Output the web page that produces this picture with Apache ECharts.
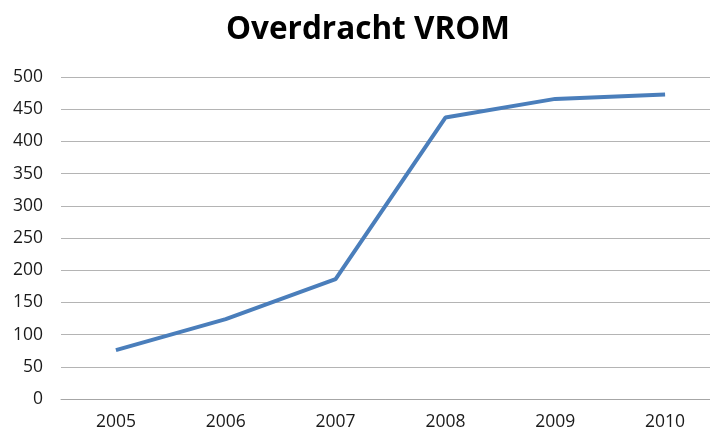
<!DOCTYPE html>
<html>
<head>
<meta charset="utf-8">
<script src="https://cdn.jsdelivr.net/npm/echarts@6/dist/echarts.min.js"></script>
<style>
  html, body { margin: 0; padding: 0; background: #fff; }
  #main { width: 710px; height: 435px; }
</style>
</head>
<body>
<div id="main"></div>
<script>
// data
var years = ['2005', '2006', '2007', '2008', '2009', '2010'];
var overdracht = [76, 124, 186, 437, 466, 473];

var chart = echarts.init(document.getElementById('main'));
var option = {
  animation: false,
  title: {
    text: 'Overdracht VROM',
    left: 363,
    top: 9,
    textAlign: 'center',
    textStyle: {
      fontFamily: 'Open Sans',
      fontWeight: 'bold',
      fontSize: 31.5,
      color: '#000'
    }
  },
  // plot area runs a bit past the right edge, like the cropped original
  grid: { left: 61, width: 659, top: 77, bottom: 36, outerBoundsMode: 'none' },
  xAxis: {
    type: 'category',
    data: years,
    boundaryGap: true,
    axisLine: { lineStyle: { color: '#a6a6a6', width: 1 } },
    axisTick: { show: false },
    axisLabel: { margin: 14, fontFamily: 'Open Sans', fontSize: 17.5, color: '#1a1a1a' }
  },
  yAxis: {
    type: 'value',
    min: 0,
    max: 500,
    interval: 50,
    axisLine: { show: false },
    axisTick: { show: false },
    splitLine: { lineStyle: { color: '#b4b4b4', width: 1 } },
    axisLabel: { margin: 18, fontFamily: 'Open Sans', fontSize: 17.5, color: '#1a1a1a' }
  },
  series: [{
    type: 'line',
    data: overdracht,
    showSymbol: false,
    lineStyle: { color: '#4a7ebb', width: 4 }
  }]
};
chart.setOption(option);
</script>
</body>
</html>
